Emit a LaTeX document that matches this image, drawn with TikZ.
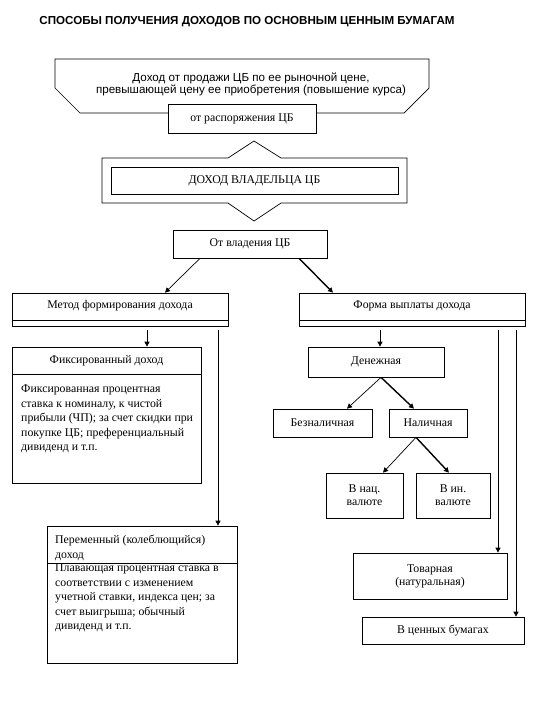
\documentclass[tikz,border=0pt]{standalone}
\usepackage{fontspec}
\setmainfont{Liberation Serif}
\newfontfamily\sansf{Liberation Sans}
\usetikzlibrary{arrows.meta,calc}
\begin{document}
\begin{tikzpicture}[x=1pt,y=-1pt,
  box/.style={draw,line width=0.7pt,fill=white,inner sep=0pt,font=\fontsize{11.8}{13}\selectfont},
  txt/.style={inner sep=0pt,font=\fontsize{11.8}{14.6}\selectfont,align=left,anchor=north west},
  ln/.style={line width=0.7pt},
  arr/.style={line width=0.7pt,-{Triangle[length=5pt,width=5pt]}},
  arrb/.style={line width=1.4pt,-{Triangle[length=5pt,width=5pt]}}]
\useasboundingbox (0,0) rectangle (540,720);
% title
\node[font=\sansf\bfseries\fontsize{11.6}{13}\selectfont,inner sep=0pt] (title) at (247,22) {СПОСОБЫ ПОЛУЧЕНИЯ ДОХОДОВ ПО ОСНОВНЫМ ЦЕННЫМ БУМАГАМ};
% top octagon
\draw[ln] (55,59) -- (429,59) -- (429,88) -- (404,113) -- (80,113) -- (55,88) -- cycle;
\node[font=\sansf\fontsize{11.6}{11.5}\selectfont,align=center,inner sep=0pt] (sale) at (251,84.5) {Доход от продажи ЦБ по ее рыночной цене,\\ превышающей цену ее приобретения (повышение курса)};
\node[box,minimum width=148,minimum height=29] (disp) at (242,118.5) {от распоряжения ЦБ};
% hexagon
\draw[ln] (102,158) -- (228,158) -- (254,141) -- (281,158) -- (407,158) -- (407,203) -- (281,203) -- (254,221) -- (228,203) -- (102,203) -- cycle;
\node[box,minimum width=287,minimum height=27] (owner) at (254.5,180.5) {ДОХОД ВЛАДЕЛЬЦА ЦБ};
% own
\node[box,minimum width=154,minimum height=28] (own) at (250,244) {От владения ЦБ};
% method / form
\node[box,minimum width=216,minimum height=33] (meth) at (120,309.5) {};
\draw[ln] (12,320) -- (228,320);
\node[inner sep=0pt,font=\fontsize{11.8}{13}\selectfont] (methT) at (120,306) {Метод формирования дохода};
\node[box,minimum width=226,minimum height=33] (form) at (412,309.5) {};
\draw[ln] (299,320) -- (525,320);
\node[inner sep=0pt,font=\fontsize{11.8}{13}\selectfont] (formT) at (412,306) {Форма выплаты дохода};
% fixed
\node[box,minimum width=189,minimum height=136] (fixed) at (106.5,415) {};
\draw[ln] (12,374) -- (201,374);
\node[inner sep=0pt,font=\fontsize{11.8}{13}\selectfont] (fixedT) at (106.5,360.5) {Фиксированный доход};
\node[txt] (fixedB) at (21,384.5) {Фиксированная процентная\\ставка к номиналу, к чистой\\прибыли (ЧП); за счет скидки при\\покупке ЦБ; преференциальный\\дивиденд и т.п.};
% variable
\node[box,minimum width=190,minimum height=137] (var) at (142,594.5) {};
\draw[ln] (47,563) -- (237,563);
\node[txt] (varT) at (55,535) {Переменный (колеблющийся)\\доход};
\node[txt] (varB) at (55,563.5) {Плавающая процентная ставка в\\соответствии с изменением\\учетной ставки, индекса цен; за\\счет выигрыша; обычный\\дивиденд и т.п.};
% right side
\node[box,minimum width=136,minimum height=30] (money) at (376,362) {Денежная};
\node[box,minimum width=99,minimum height=28] (bez) at (322.5,423) {Безналичная};
\node[box,minimum width=78,minimum height=28] (nal) at (428,423) {Наличная};
\node[box,minimum width=77,minimum height=45,align=center] (nac) at (364.5,495.5) {В нац.\\валюте};
\node[box,minimum width=74,minimum height=45,align=center] (inv) at (453,495.5) {В ин.\\валюте};
\node[box,minimum width=154,minimum height=46,align=center] (tov) at (430,576) {Товарная\\(натуральная)};
\node[box,minimum width=162,minimum height=27] (cb) at (443,630.5) {В ценных бумагах};
% connectors
\draw[arr] ([xshift=-50pt]own.south) -- ([xshift=45pt]meth.north);
\draw[arrb] ([xshift=49pt]own.south) -- ([xshift=-79pt]form.north);
\draw[arr] ([xshift=27pt,yshift=-4pt]meth.south) -- ([xshift=27pt]meth.south |- fixed.north);
\draw[arr] ([xshift=98pt,yshift=-4pt]meth.south) -- ([xshift=98pt]meth.south |- var.north);
\draw[arr] ([xshift=-32pt,yshift=-4pt]form.south) -- ([xshift=-32pt]form.south |- money.north);
\draw[arr] ([xshift=86pt,yshift=-4pt]form.south) -- ([xshift=86pt]form.south |- tov.north);
\draw[arr] ([xshift=104pt,yshift=-4pt]form.south) -- ([xshift=104pt]form.south |- cb.north);
\draw[arr] ([xshift=5pt]money.south) -- ([xshift=24.5pt]bez.north);
\draw[arrb] ([xshift=5pt]money.south) -- ([xshift=-14pt]nal.north);
\draw[arr] ([xshift=-12pt]nal.south) -- ([xshift=18.5pt]nac.north);
\draw[arrb] ([xshift=-12pt]nal.south) -- ([xshift=-4pt]inv.north);
\end{tikzpicture}
\end{document}
